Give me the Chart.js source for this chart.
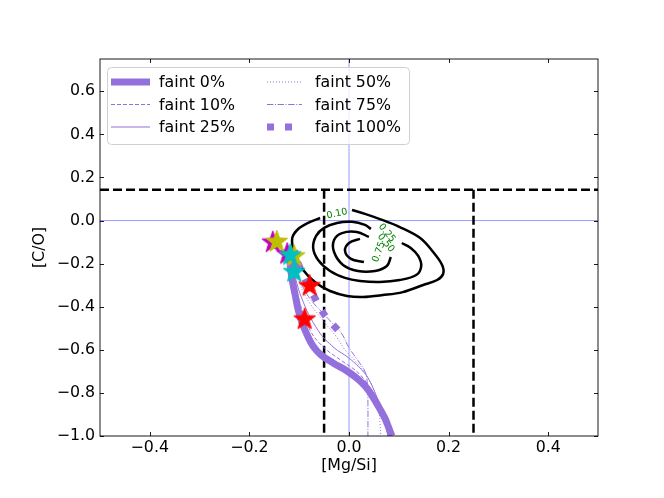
<!DOCTYPE html>
<html><head><meta charset="utf-8">
<script src="https://cdn.jsdelivr.net/npm/chart.js@4/dist/chart.umd.min.js"></script>
<style>html,body{margin:0;padding:0;background:#fff}</style>
</head><body>
<canvas id="c" width="664" height="498" style="width:664px;height:498px;display:block"></canvas>
<script>
// ---- tick labels ----
const xTicks = [-0.4, -0.2, 0.0, 0.2, 0.4];
const yTicks = [-1.0, -0.8, -0.6, -0.4, -0.2, 0.0, 0.2, 0.4, 0.6];

// ---- model tracks ([Mg/Si], [C/O]) ----
const faint0 = [[-0.120,-0.160],[-0.118,-0.206],[-0.114,-0.276],[-0.108,-0.346],[-0.102,-0.415],[-0.094,-0.476],[-0.084,-0.531],[-0.072,-0.583],[-0.056,-0.624],[-0.032,-0.661],[-0.004,-0.698],[0.018,-0.736],[0.034,-0.773],[0.048,-0.819],[0.060,-0.866],[0.072,-0.917],[0.080,-0.963],[0.086,-1.0]];
const faint10 = [[-0.115,-0.200],[-0.100,-0.370],[-0.078,-0.510],[-0.050,-0.590],[-0.015,-0.650],[0.020,-0.710],[0.046,-0.790],[0.066,-0.870],[0.080,-0.950],[0.086,-1.0]];
const faint25 = [[-0.115,-0.200],[-0.095,-0.360],[-0.062,-0.510],[-0.030,-0.590],[-0.002,-0.635],[0.020,-0.680],[0.038,-0.730],[0.056,-0.820],[0.070,-0.910],[0.078,-1.0]];
const faint50 = [[-0.110,-0.200],[-0.090,-0.340],[-0.050,-0.470],[-0.025,-0.540],[-0.008,-0.600],[0.012,-0.650],[0.030,-0.700],[0.045,-0.760],[0.058,-0.850],[0.064,-1.0]];
const faint75 = [[-0.110,-0.200],[-0.085,-0.340],[-0.040,-0.460],[-0.016,-0.520],[0.000,-0.590],[0.018,-0.650],[0.032,-0.700],[0.037,-0.760],[0.038,-0.850],[0.038,-1.0]];
const faint100 = [[-0.103,-0.194],[-0.087,-0.278],[-0.066,-0.370],[-0.050,-0.435],[-0.022,-0.509]];

// ---- star markers ----
const starsMagenta = [[-0.153,-0.098],[-0.124,-0.152]];
const starsYellow = [[-0.145,-0.095],[-0.110,-0.162]];
const starsCyan = [[-0.118,-0.157],[-0.110,-0.235]];
const starsRed = [[-0.079,-0.300],[-0.089,-0.455]];

// ---- contour levels ----
const contour10 = [[0.006,0.049],[0.032,0.031],[0.062,0.007],[0.102,-0.030],[0.143,-0.081],[0.169,-0.146],[0.187,-0.206],[0.189,-0.248],[0.177,-0.276],[0.149,-0.299],[0.108,-0.332],[0.068,-0.346],[0.028,-0.355],[-0.004,-0.350],[-0.038,-0.327],[-0.066,-0.290],[-0.092,-0.229],[-0.110,-0.146],[-0.114,-0.081],[-0.102,-0.039],[-0.082,-0.011],[-0.058,0.012]];
const contour25 = [[0.106,-0.104],[0.124,-0.127],[0.139,-0.164],[0.145,-0.211],[0.135,-0.253],[0.102,-0.276],[0.062,-0.285],[0.022,-0.280],[-0.008,-0.266],[-0.038,-0.234],[-0.062,-0.183],[-0.072,-0.127],[-0.066,-0.071],[-0.050,-0.034],[-0.024,-0.011],[0.006,-0.006],[0.032,-0.020],[0.044,-0.039]];
const contour50 = [[0.084,-0.169],[0.076,-0.211],[0.052,-0.234],[0.018,-0.234],[-0.012,-0.206],[-0.030,-0.146],[-0.030,-0.090],[-0.014,-0.058],[0.016,-0.053],[0.040,-0.076]];
const contour75 = [[0.022,-0.085],[0.000,-0.104],[-0.008,-0.141],[0.004,-0.178],[0.030,-0.192]];
const contourLabelText = ['0.10','0.25','0.50','0.75'];
const contourLabelPos = [[-0.024,0.031],[0.076,-0.058],[0.074,-0.104],[0.060,-0.146]];
const contourLabelRot = [-12, 50, 50, -70];

// ---- reference lines ----
const coLimit = 0.143;
const mgsiLimits = [-0.05, 0.25];

const PURPLE = '#9370DB';
const FONT = 'DejaVu Sans';
const FS = 15.8;
const pts = a => a.map(p => ({x: p[0], y: p[1]}));
const fmt = v => (v < -1e-9 ? '\u2212' : '') + Math.abs(v).toFixed(1);

function makeStar(color) {
  const s = 26, c = document.createElement('canvas');
  c.width = s; c.height = s;
  const g = c.getContext('2d');
  const R = 11.5, r = 4.6, cx = s/2, cy = s/2 + 0.8;
  g.beginPath();
  for (let i = 0; i < 10; i++) {
    const a = -Math.PI/2 + i*Math.PI/5, rr = i % 2 ? r : R;
    const px = cx + rr*Math.cos(a), py = cy + rr*Math.sin(a);
    i ? g.lineTo(px, py) : g.moveTo(px, py);
  }
  g.closePath();
  g.fillStyle = color; g.fill();
  g.strokeStyle = color; g.lineWidth = 1; g.stroke();
  return c;
}

function lineDS(data, color, width, dash, order, tension) {
  return {data: pts(data), showLine: true, borderColor: color, backgroundColor: color,
    borderWidth: width, borderDash: dash || [], pointRadius: 0, tension: tension || 0,
    order: order, borderCapStyle: 'butt', borderJoinStyle: 'round', fill: false};
}
function starDS(data, color, order) {
  return {data: pts(data), showLine: false, pointStyle: makeStar(color), pointRadius: 11, order: order};
}

const datasets = [
  lineDS([[0,-1],[0,0.75]], 'rgba(0,0,255,0.5)', 0.8, null, 100),
  lineDS([[-0.5,0],[0.5,0]], 'rgba(0,0,255,0.5)', 0.8, null, 100),
  lineDS([[-0.5,coLimit],[0.5,coLimit]], '#000', 2.5, [9,4], 90),
  lineDS([[mgsiLimits[0],coLimit],[mgsiLimits[0],-1]], '#000', 2.5, [9,4], 90),
  lineDS([[mgsiLimits[1],coLimit],[mgsiLimits[1],-1]], '#000', 2.5, [9,4], 90),
  lineDS(contour10, '#000', 2.5, null, 80, 0.35),
  lineDS(contour25, '#000', 2.5, null, 80, 0.35),
  lineDS(contour50, '#000', 2.5, null, 80, 0.35),
  lineDS(contour75, '#000', 2.5, null, 80, 0.35),
  lineDS(faint0, PURPLE, 7, null, 60, 0.4),
  lineDS(faint10, PURPLE, 1, [4,2], 59, 0.4),
  lineDS(faint25, PURPLE, 1, null, 58, 0.4),
  lineDS(faint50, PURPLE, 1, [1,2], 57, 0.4),
  lineDS(faint75, PURPLE, 1, [6.4,1.6,1,1.6], 56, 0.4),
  lineDS(faint100, PURPLE, 7, [7,11], 55, 0.3),
  starDS(starsMagenta, '#bf00bf', 14),
  starDS(starsYellow, '#bfbf00', 13),
  starDS(starsCyan, '#00bfbf', 12),
  starDS(starsRed, '#ff0000', 11)
];

const legendItems = [
  {label:'faint 0%', w:7, dash:[]},
  {label:'faint 10%', w:1, dash:[4,2]},
  {label:'faint 25%', w:1, dash:[]},
  {label:'faint 50%', w:1, dash:[1,2]},
  {label:'faint 75%', w:1, dash:[6.4,1.6,1,1.6]},
  {label:'faint 100%', w:7, dash:[7,11]}
];

const decor = {
  id: 'decor',
  afterDatasetsDraw(chart) {
    const {ctx, chartArea: a, scales} = chart;
    ctx.save();
    ctx.fillStyle = '#008000';
    ctx.font = '9.5px "' + FONT + '"';
    ctx.textAlign = 'center'; ctx.textBaseline = 'middle';
    contourLabelText.forEach((t, i) => {
      const px = scales.x.getPixelForValue(contourLabelPos[i][0]);
      const py = scales.y.getPixelForValue(contourLabelPos[i][1]);
      ctx.save(); ctx.translate(px, py); ctx.rotate(contourLabelRot[i]*Math.PI/180);
      ctx.fillText(t, 0, 0); ctx.restore();
    });
    ctx.strokeStyle = '#000'; ctx.lineWidth = 0.9;
    ctx.strokeRect(a.left, a.top, a.right - a.left, a.bottom - a.top);
    ctx.beginPath();
    xTicks.forEach(v => {
      const px = Math.round(scales.x.getPixelForValue(v)) + 0.5;
      ctx.moveTo(px, a.bottom); ctx.lineTo(px, a.bottom - 4);
      ctx.moveTo(px, a.top); ctx.lineTo(px, a.top + 4);
    });
    yTicks.forEach(v => {
      const py = Math.round(scales.y.getPixelForValue(v)) + 0.5;
      ctx.moveTo(a.left, py); ctx.lineTo(a.left + 4, py);
      ctx.moveTo(a.right, py); ctx.lineTo(a.right - 4, py);
    });
    ctx.stroke();
    ctx.restore();
  },
  afterDraw(chart) {
    const ctx = chart.ctx;
    ctx.save();
    const bx = 107, by = 67, bw = 302, bh = 77, r = 4;
    ctx.beginPath();
    ctx.roundRect(bx + 0.5, by + 0.5, bw, bh, r);
    ctx.fillStyle = 'rgba(255,255,255,0.8)'; ctx.fill();
    ctx.strokeStyle = '#d0d0d0'; ctx.lineWidth = 1; ctx.stroke();
    ctx.font = FS + 'px "' + FONT + '"';
    ctx.textAlign = 'left'; ctx.textBaseline = 'middle';
    const rows = [82, 104.5, 127], hx = [[111,150],[267,302]], tx = [159, 315];
    legendItems.forEach((it, i) => {
      const col = Math.floor(i / 3), row = i % 3, y = rows[row];
      ctx.strokeStyle = PURPLE; ctx.lineWidth = it.w; ctx.setLineDash(it.dash); ctx.lineCap = 'butt';
      ctx.beginPath(); ctx.moveTo(hx[col][0], y); ctx.lineTo(hx[col][1], y); ctx.stroke();
      ctx.setLineDash([]);
      ctx.fillStyle = '#000';
      ctx.fillText(it.label, tx[col], y + 1);
    });
    ctx.restore();
  }
};

const tickFont = {family: FONT, size: FS};
new Chart(document.getElementById('c'), {
  type: 'scatter',
  data: {datasets},
  options: {
    responsive: false, animation: false, devicePixelRatio: 1,
    layout: {padding: {left: 0, top: 59, right: 66, bottom: 0}},
    plugins: {legend: {display: false}, tooltip: {enabled: false}},
    scales: {
      x: {type: 'linear', min: -0.5, max: 0.5, position: 'bottom',
        afterBuildTicks: s => { s.ticks = xTicks.map(v => ({value: v})); },
        afterFit: s => { s.height = 62; },
        grid: {display: false, drawTicks: false}, border: {display: false},
        ticks: {autoSkip: false, maxRotation: 0, padding: 2.5, color: '#000', font: tickFont, callback: v => fmt(v)},
        title: {display: true, text: '[Mg/Si]', color: '#000', font: tickFont, padding: {top: 0, bottom: 22.5}}
      },
      y: {type: 'linear', min: -1, max: 0.75, position: 'left',
        afterBuildTicks: s => { s.ticks = yTicks.map(v => ({value: v})); },
        afterFit: s => { s.width = 100; },
        grid: {display: false, drawTicks: false}, border: {display: false},
        ticks: {autoSkip: false, padding: 5, color: '#000', font: tickFont, callback: v => fmt(v)},
        title: {display: true, text: '[C/O]', color: '#000', font: tickFont, padding: {top: 30.5, bottom: 0}}
      }
    }
  },
  plugins: [decor]
});
</script>
</body></html>
